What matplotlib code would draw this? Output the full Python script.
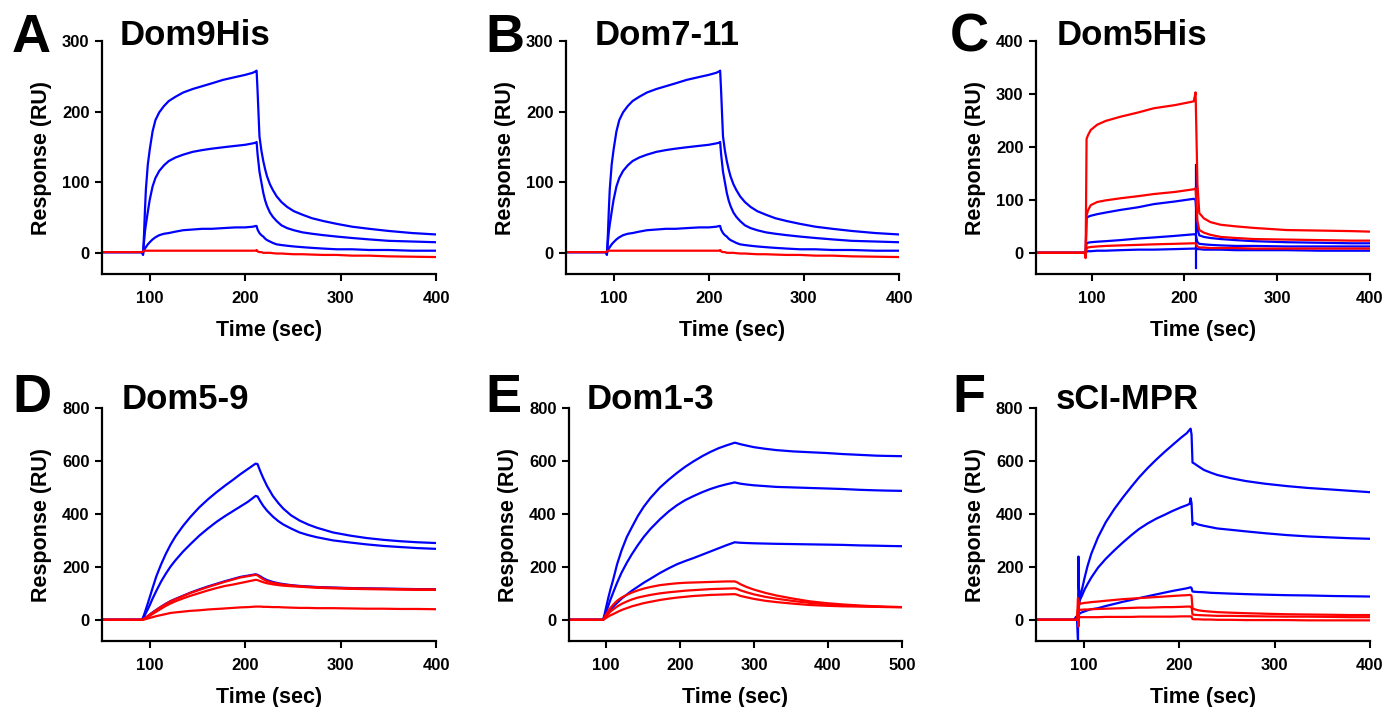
import matplotlib
matplotlib.use("Agg")
import matplotlib.pyplot as plt

plt.rcParams["font.family"] = ["Liberation Sans", "DejaVu Sans"]
plt.rcParams["font.weight"] = "bold"

BLUE = "#0000ff"
RED = "#ff0000"

# ---- panel A : Dom9His ----
a_t = [50, 92, 93, 94, 95, 96, 98, 100, 103, 106, 110, 115, 120, 127, 135, 145, 155, 165, 177, 190, 200, 208, 211,
       212, 213, 215, 217, 219, 221, 223, 226, 229, 233, 238, 244, 251, 260, 270, 282, 296, 312, 330, 350, 375, 400]
a_blue1 = [1, 1, -3, 25, 60, 90, 125, 146, 172, 188, 199, 208, 215, 221, 227, 232, 236, 240, 245, 249, 252, 255, 257,
           258, 230, 165, 145, 130, 118, 108, 97, 89, 80, 72, 65, 59, 54, 49, 45, 41, 37, 34, 31, 28, 26]
a_blue2 = [1, 1, -2, 15, 30, 40, 58, 75, 94, 106, 116, 124, 130, 135, 139, 143, 145.5, 147.5, 149.5, 151.5, 153, 155, 156,
           157, 140, 115, 100, 85, 74, 66, 57, 51, 45, 39, 35, 32, 29, 27, 25, 23, 21, 19, 17, 16, 15]
a_blue3 = [1, 1, 0, 3, 6, 8, 12, 15, 19, 22, 25, 27, 28, 30, 32, 33, 34, 34, 35, 36, 36, 37, 38,
           38, 33, 28, 25, 23, 20, 18, 16, 14, 12, 11, 10, 9, 8, 7, 6, 5, 5, 4, 4, 3, 3]
a_red1 = [1, 1, 2, 3, 3, 3, 3, 3, 3, 3, 3, 3, 3, 3, 3, 3, 3, 3, 3, 3, 3, 3, 3,
          4, 2, 1, 1, 0, 0, 0, 0, -0.5, -1, -1, -1.5, -2, -2, -2.5, -3, -3, -4, -4, -5, -5.5, -6]

# ---- panel B : Dom7-11 ----
b_t = [50, 92, 93, 94, 95, 96, 98, 100, 103, 106, 110, 115, 120, 127, 135, 145, 155, 165, 177, 190, 200, 208, 211,
       212, 213, 215, 217, 219, 221, 223, 226, 229, 233, 238, 244, 251, 260, 270, 282, 296, 312, 330, 350, 375, 400]
b_blue1 = [1, 1, -3, 25, 60, 90, 125, 146, 172, 188, 199, 208, 215, 221, 227, 232, 236, 240, 245, 249, 252, 255, 257,
           258, 230, 165, 145, 130, 118, 108, 97, 89, 80, 72, 65, 59, 54, 49, 45, 41, 37, 34, 31, 28, 26]
b_blue2 = [1, 1, -2, 15, 30, 40, 58, 75, 94, 106, 116, 124, 130, 135, 139, 143, 145.5, 147.5, 149.5, 151.5, 153, 155, 156,
           157, 140, 115, 100, 85, 74, 66, 57, 51, 45, 39, 35, 32, 29, 27, 25, 23, 21, 19, 17, 16, 15]
b_blue3 = [1, 1, 0, 3, 6, 8, 12, 15, 19, 22, 25, 27, 28, 30, 32, 33, 34, 34, 35, 36, 36, 37, 38,
           38, 33, 28, 25, 23, 20, 18, 16, 14, 12, 11, 10, 9, 8, 7, 6, 5, 5, 4, 4, 3, 3]
b_red1 = [1, 1, 2, 3, 3, 3, 3, 3, 3, 3, 3, 3, 3, 3, 3, 3, 3, 3, 3, 3, 3, 3, 3,
          4, 2, 1, 1, 0, 0, 0, 0, -0.5, -1, -1, -1.5, -2, -2, -2.5, -3, -3, -4, -4, -5, -5.5, -6]

# ---- panel C : Dom5His ----
c_t = [40, 92.5, 93.5, 94.5, 96, 99, 106, 115, 131, 150, 167, 190, 210, 212, 214, 216, 221, 228, 239, 255, 275, 310, 346, 380, 400]
c_blue1 = [0, 0, 0, 65, 68, 70, 73, 76, 81, 86, 92, 97, 102, 100, 45, 33, 30, 28, 26, 24, 22, 20, 19, 18, 18]
c_blue2 = [0, 0, 0, 18, 19, 20, 21, 22, 24, 27, 29, 32, 35, 35, 20, 17, 16, 15, 14, 13, 13, 12, 12, 12, 12]
c_blue3 = [0, 0, 0, 2, 3, 3, 4, 4, 5, 6, 6, 7, 8, 8, 7, 7, 6, 6, 6, 5, 5, 5, 4, 4, 4]
c_red1 = [0, 0, -10, 215, 222, 232, 242, 249, 257, 265, 273, 279, 286, 303, 130, 75, 65, 58, 53, 50, 47, 43, 42, 41, 40]
c_red2 = [0, 0, -5, 70, 80, 90, 96, 99, 103, 107, 111, 115, 120, 122, 60, 43, 38, 34, 30, 28, 26, 25, 24, 23, 23]
c_red3 = [0, 0, 0, 8, 10, 11, 12, 13, 14, 15, 16, 17, 18, 18, 12, 10, 10, 9, 9, 9, 8, 8, 8, 8, 8]
c_spike_t = [212.5, 212.5]
c_spike = [166, -29]

# ---- panel D : Dom5-9 ----
d_t = [50, 92, 94, 96, 98, 100, 103, 107, 112, 117, 122, 127, 135, 143, 152, 161, 170, 179, 187, 195, 203, 211,
       213, 216, 219, 223, 229, 235, 240, 248, 257, 266, 275, 292, 310, 327, 345, 362, 380, 400]
d_blue1 = [0, 0, 18, 40, 62, 85, 120, 165, 210, 250, 285, 315, 355, 390, 425, 455, 482, 507, 528, 550, 570, 590,
           588, 560, 535, 505, 468, 440, 420, 395, 375, 360, 348, 330, 318, 309, 302, 297, 293, 290]
d_blue2 = [0, 0, 12, 26, 40, 55, 80, 110, 145, 175, 202, 225, 258, 287, 318, 345, 370, 392, 410, 428, 446, 468,
           466, 447, 430, 412, 390, 372, 360, 345, 330, 320, 312, 300, 292, 285, 279, 275, 271, 268]
d_blue3 = [0, 0, 4, 9, 14, 20, 28, 38, 50, 61, 71, 79, 91, 103, 115, 126, 136, 146, 154, 162, 167, 172,
           170, 164, 157, 150, 143, 138, 135, 131, 128, 126, 124, 122, 120, 119, 118, 117, 116, 116]
d_red1 = [0, 0, 4, 9, 14, 19, 27, 37, 49, 60, 70, 78, 90, 102, 113, 124, 134, 144, 152, 160, 165, 170,
          168, 160, 153, 146, 140, 136, 133, 130, 127, 125, 123, 121, 119, 118, 117, 116, 115, 115]
d_red2 = [0, 0, 3, 7, 11, 15, 22, 31, 42, 53, 62, 70, 81, 91, 101, 111, 120, 128, 133, 139, 145, 151,
          150, 146, 142, 138, 134, 131, 129, 127, 125, 123, 121, 119, 117, 116, 115, 114, 113, 113]
d_red3 = [0, 0, 1, 3, 5, 7, 10, 14, 18, 22, 26, 28, 31, 34, 36, 39, 41, 43, 45, 47, 48, 50,
          50, 50, 49, 49, 48, 48, 47, 46, 45, 45, 44, 44, 43, 42, 42, 41, 41, 40]

# ---- panel E : Dom1-3 ----
e_t = [50, 94, 96, 98, 100, 103, 106, 110, 115, 121, 128, 135, 143, 151, 160, 173, 185, 196, 207, 218, 230, 241, 252, 263, 274,
       277, 282, 290, 300, 315, 330, 353, 375, 398, 420, 443, 465, 480, 500]
e_blue1 = [0, 0, 0, 20, 45, 82, 115, 155, 210, 262, 312, 350, 392, 427, 460, 500, 530, 555, 578, 598, 618, 634, 648, 659, 669,
           667, 663, 658, 652, 646, 641, 636, 633, 630, 626, 623, 620, 619, 618]
e_blue2 = [0, 0, 0, 12, 28, 52, 76, 105, 140, 178, 215, 248, 282, 313, 343, 380, 410, 433, 452, 467, 482, 494, 504, 512, 519,
           517, 514, 511, 508, 505, 502, 500, 498, 496, 494, 491, 489, 488, 487]
e_blue3 = [0, 0, 0, 7, 16, 28, 38, 50, 64, 80, 95, 110, 125, 140, 155, 177, 195, 210, 222, 233, 246, 258, 270, 282, 293,
           292, 291, 290, 289, 288, 287, 286, 285, 284, 283, 281, 280, 279, 278]
e_red1 = [0, 0, 0, 10, 20, 33, 45, 58, 72, 84, 94, 103, 111, 118, 124, 131, 135, 138, 140, 141, 142, 143, 144, 145, 145,
          142, 134, 124, 114, 102, 92, 80, 70, 63, 58, 54, 51, 49, 48]
e_red2 = [0, 0, 0, 6, 13, 22, 31, 40, 50, 60, 69, 77, 84, 89, 94, 100, 104, 107, 110, 112, 114, 116, 117, 118, 119,
          117, 111, 104, 96, 87, 80, 71, 64, 58, 55, 52, 50, 49, 48]
e_red3 = [0, 0, 0, 3, 7, 12, 17, 22, 29, 37, 44, 51, 57, 63, 68, 75, 80, 84, 87, 90, 92, 94, 95, 96, 97,
          95, 90, 85, 79, 72, 67, 61, 56, 53, 51, 50, 49, 48, 48]

# ---- panel F : sCI-MPR ----
f_t = [50, 90, 92, 93, 94, 94.5, 95, 96, 98, 101, 104, 108, 115, 123, 132, 141, 150, 158, 167, 176, 185, 193, 202, 208, 211, 212,
       213, 214, 216, 220, 226, 233, 240, 254, 270, 290, 313, 335, 360, 380, 400]
f_blue1 = [0, 0, 12, 0, -75, 239, 120, 82, 112, 160, 203, 250, 312, 368, 418, 462, 503, 538, 573, 605, 635, 660, 688, 705, 718, 722,
           700, 594, 590, 580, 566, 556, 547, 535, 524, 514, 505, 498, 492, 487, 482]
f_blue2 = [0, 0, 0, 0, 0, 20, 50, 75, 90, 115, 135, 160, 197, 230, 262, 292, 320, 343, 364, 382, 397, 411, 425, 433, 438, 459,
           440, 358, 366, 360, 355, 350, 345, 340, 334, 327, 320, 315, 311, 308, 306]
f_blue3 = [0, 0, 0, 0, 0, 10, 18, 25, 28, 32, 36, 40, 44, 52, 60, 68, 75, 82, 89, 96, 103, 109, 115, 119, 122, 123,
           120, 107, 106, 105, 104, 102, 101, 99, 97, 95, 93, 92, 90, 89, 88]
f_red1 = [0, 0, 0, 0, 82, -25, 70, 60, 62, 64, 65, 67, 69, 72, 75, 78, 80, 82, 84, 86, 88, 90, 92, 93, 94, 94,
          90, 44, 40, 36, 33, 31, 29, 27, 25, 23, 21, 20, 19, 18, 18]
f_red2 = [0, 0, 0, 0, 40, 10, 35, 38, 38, 39, 39, 40, 41, 42, 43, 44, 45, 46, 46, 47, 48, 48, 49, 50, 50, 50,
          49, 20, 19, 18, 17, 16, 15, 15, 14, 13, 12, 12, 11, 10, 10]
f_red3 = [0, 0, 0, 0, 20, 5, 10, 10, 10, 10, 10, 10, 10, 11, 11, 11, 11, 12, 12, 12, 12, 12, 13, 13, 13, 13,
          12, 3, 2, 2, 1, 1, 0, 0, -1, -1, -1, -2, -2, -2, -2]

W, H = 1386, 707
fig = plt.figure(figsize=(W / 100, H / 100), dpi=100)


def px_axes(left, top, right, bottom):
    return fig.add_axes([left / W, 1 - bottom / H, (right - left) / W, (bottom - top) / H])


panels = [
    ("A", "Dom9His", (102, 41, 436, 274), (50, 400), (-30, 300), [100, 200, 300, 400], [0, 100, 200, 300],
     a_t, [a_blue1, a_blue2, a_blue3], [a_red1], (12, 52), (120, 45)),
    ("B", "Dom7-11", (566, 41, 899, 274), (50, 400), (-30, 300), [100, 200, 300, 400], [0, 100, 200, 300],
     b_t, [b_blue1, b_blue2, b_blue3], [b_red1], (485, 52), (595, 45)),
    ("C", "Dom5His", (1036, 41, 1370, 274), (40, 400), (-40, 400), [100, 200, 300, 400], [0, 100, 200, 300, 400],
     c_t, [c_blue1, c_blue2, c_blue3], [c_red1, c_red2, c_red3], (950, 52), (1057, 45)),
    ("D", "Dom5-9", (102, 408, 436, 641), (50, 400), (-80, 800), [100, 200, 300, 400], [0, 200, 400, 600, 800],
     d_t, [d_blue1, d_blue2, d_blue3], [d_red1, d_red2, d_red3], (12, 412), (122, 409)),
    ("E", "Dom1-3", (569, 408, 902, 641), (50, 500), (-80, 800), [100, 200, 300, 400, 500], [0, 200, 400, 600, 800],
     e_t, [e_blue1, e_blue2, e_blue3], [e_red1, e_red2, e_red3], (485, 412), (587, 409)),
    ("F", "sCI-MPR", (1036, 408, 1370, 641), (50, 400), (-80, 800), [100, 200, 300, 400], [0, 200, 400, 600, 800],
     f_t, [f_blue1, f_blue2, f_blue3], [f_red1, f_red2, f_red3], (952, 412), (1056, 409)),
]

for letter, title, box, xl, yl, xt, yt, t, blues, reds, lpos, tpos in panels:
    ax = px_axes(*box)
    for y in blues:
        ax.plot(t, y, color=BLUE, lw=1.6, solid_joinstyle="round")
    if letter == "C":
        ax.plot(c_spike_t, c_spike, color=BLUE, lw=1.6)
    for y in reds:
        ax.plot(t, y, color=RED, lw=1.6, solid_joinstyle="round")
    ax.set_xlim(*xl)
    ax.set_ylim(*yl)
    ax.set_xticks(xt)
    ax.set_yticks(yt)
    for s in ["top", "right"]:
        ax.spines[s].set_visible(False)
    for s in ["left", "bottom"]:
        ax.spines[s].set_linewidth(1.6)
    ax.tick_params(direction="out", length=5, width=1.5, labelsize=12)
    ax.tick_params(axis="x", pad=7)
    ax.tick_params(axis="y", pad=4)
    for lab in ax.get_xticklabels() + ax.get_yticklabels():
        lab.set_fontweight("bold")
    ax.set_xlabel("Time (sec)", fontsize=15.5, fontweight="bold", labelpad=10)
    ax.set_ylabel("Response (RU)", fontsize=15.5, fontweight="bold", labelpad=7)
    fig.text(lpos[0] / W, 1 - lpos[1] / H, letter, fontsize=39, fontweight="bold", va="baseline", ha="left")
    fig.text(tpos[0] / W, 1 - tpos[1] / H, title, fontsize=25, fontweight="bold", va="baseline", ha="left")

fig.savefig("out.png", dpi=100)
